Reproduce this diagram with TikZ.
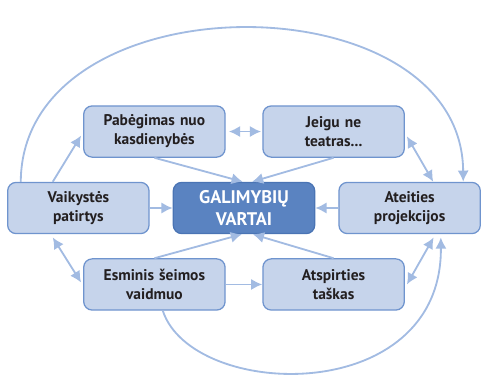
\documentclass[tikz,border=0pt]{standalone}
\usepackage{fontspec}
\setmainfont{PT Sans}
\usepackage{xcolor}
\usetikzlibrary{arrows.meta,positioning}
\definecolor{boxfill}{HTML}{C6D4EB}
\definecolor{boxline}{HTML}{6F94CE}
\definecolor{gatefill}{HTML}{5A83C1}
\definecolor{gateline}{HTML}{4A74B4}
\definecolor{arrowblue}{HTML}{A2BBE2}
\definecolor{textdark}{HTML}{231F20}
\tikzset{
  topic/.style={
    draw=boxline,
    line width=0.9pt,
    rounded corners=6pt,
    minimum width=3.5cm,
    minimum height=1.28cm,
    text width=3.3cm,
    align=center,
    font=\fontsize{11}{13.5}\selectfont\bfseries,
    text=textdark,
    fill=boxfill
  },
  gate/.style={
    draw=gateline,
    line width=0.9pt,
    rounded corners=6pt,
    minimum width=3.5cm,
    minimum height=1.28cm,
    text width=3.3cm,
    align=center,
    font=\fontsize{13}{15}\selectfont\bfseries,
    text=white,
    fill=gatefill
  },
  flow/.style={-{Latex[length=8pt,width=8pt]}, line width=1.3pt, draw=arrowblue},
  twoway/.style={{Latex[length=8pt,width=8pt]}-{Latex[length=8pt,width=8pt]}, line width=1.3pt, draw=arrowblue}
}

\begin{document}
\begin{tikzpicture}[node distance=0.6cm]
  \useasboundingbox (-6.1,-4.375) rectangle (6.1,5.2);
  \node[gate] (gate) at (0,0) {GALIMYBIŲ\\VARTAI};
  \node[topic, left=0.575cm of gate] (child) {Vaikystės\\patirtys};
  \node[topic, right=0.575cm of gate] (future) {Ateities\\projekcijos};
  \node[topic, above=of gate, xshift=-2.24cm] (escape) {Pabėgimas nuo\\kasdienybės};
  \node[topic, above=of gate, xshift=2.24cm] (theatre) {Jeigu ne\\teatras...};
  \node[topic, below=of gate, xshift=-2.24cm] (family) {Esminis šeimos\\vaidmuo};
  \node[topic, below=of gate, xshift=2.24cm] (start) {Atspirties\\taškas};

  \draw[flow] (child) -- (gate);
  \draw[flow] (future) -- (gate);
  \draw[flow] (escape.south) -- ([xshift=-0.03cm]gate.north);
  \draw[flow] (theatre.south) -- ([xshift=0.2cm]gate.north);
  \draw[flow] (family.north) -- ([xshift=-0.05cm]gate.south);
  \draw[flow] (start.north) -- ([xshift=0.22cm]gate.south);

  \draw[twoway] ([xshift=0.08cm]escape.east) -- ([xshift=-0.03cm]theatre.west);
  \draw[flow] (family.east) -- (start.west);
  \draw[flow] ([xshift=-0.64cm]child.north) -- ([xshift=-0.05cm,yshift=-0.1cm]escape.west);
  \draw[twoway] ([xshift=-0.64cm,yshift=-0.08cm]child.south) -- ([xshift=-0.05cm,yshift=0.05cm]family.west);
  \draw[twoway] ([xshift=0.05cm,yshift=-0.12cm]theatre.east) -- ([xshift=0.59cm]future.north);
  \draw[twoway] ([xshift=0.05cm]start.east) -- ([xshift=0.6cm,yshift=-0.08cm]future.south);

  \draw[flow] ([xshift=-1.44cm]child.north) .. controls (-5.55,5.77) and (5.45,5.77) .. ([xshift=1.34cm]future.north);
  \draw[flow] ([xshift=0.21cm]family.south) .. controls (-1.3,-4.8) and (4.95,-5.0) .. ([xshift=0.78cm,yshift=-0.08cm]future.south);
\end{tikzpicture}
\end{document}
